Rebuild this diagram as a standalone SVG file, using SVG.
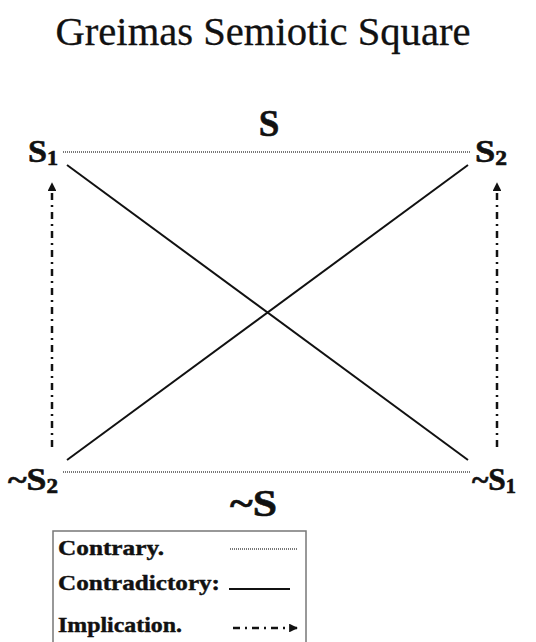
<svg xmlns="http://www.w3.org/2000/svg" width="536" height="642" viewBox="0 0 536 642">
<defs>
<style>
.title{font-family:"Liberation Serif","DejaVu Serif",serif;font-size:40px;fill:#111;stroke:#111;stroke-width:0.3}
.lbl{font-family:"Liberation Serif","DejaVu Serif",serif;font-weight:bold;fill:#111;stroke:#111;stroke-width:0.6}
.big{font-size:37px}
.node{font-size:31px}
.sub{font-size:20px}
.leg{font-family:"Liberation Serif","DejaVu Serif",serif;font-weight:bold;font-size:21px;fill:#111;stroke:#111;stroke-width:0.4}
.contrary{stroke:#777;stroke-width:2;stroke-dasharray:1 1;fill:none}
.contra{stroke:#111;stroke-width:2;fill:none}
.impl{stroke:#111;stroke-width:2.5;stroke-dasharray:7 5 2 5;fill:none}
</style>
<marker id="ah" viewBox="0 0 10 10" refX="9" refY="5" markerWidth="3.5" markerHeight="3.5" orient="auto" markerUnits="strokeWidth">
<path d="M0,0 L10,5 L0,10 Z" fill="#111"/>
</marker>
</defs>
<rect width="536" height="642" fill="#fff"/>
<text class="title" x="263" y="45" text-anchor="middle" textLength="415" lengthAdjust="spacingAndGlyphs">Greimas Semiotic Square</text>

<g id="connectors">
<line class="contrary" x1="63" y1="152" x2="471" y2="152"/>
<line class="contrary" x1="63" y1="472" x2="471" y2="472"/>
<line class="contra" x1="67" y1="165" x2="468" y2="460"/>
<line class="contra" x1="468" y1="165" x2="67" y2="460"/>
<line class="impl" x1="52" y1="447" x2="52" y2="183" marker-end="url(#ah)"/>
<line class="impl" x1="497" y1="447" x2="497" y2="183" marker-end="url(#ah)"/>
</g>

<g id="S"><text class="lbl big" x="269" y="136" text-anchor="middle">S</text></g>
<g id="notS"><text class="lbl big" x="230" y="516" textLength="47" lengthAdjust="spacingAndGlyphs">~S</text></g>
<g id="S1"><text class="lbl node" x="28" y="162" textLength="30" lengthAdjust="spacingAndGlyphs">S<tspan class="sub" dy="3">1</tspan></text></g>
<g id="S2"><text class="lbl node" x="475" y="162" textLength="32" lengthAdjust="spacingAndGlyphs">S<tspan class="sub" dy="3">2</tspan></text></g>
<g id="notS2"><text class="lbl node" x="8" y="490" textLength="50" lengthAdjust="spacingAndGlyphs">~S<tspan class="sub" dy="3">2</tspan></text></g>
<g id="notS1"><text class="lbl node" x="472" y="490" textLength="44" lengthAdjust="spacingAndGlyphs">~S<tspan class="sub" dy="3">1</tspan></text></g>

<g id="legend">
<rect x="53" y="531" width="253" height="116" fill="#fff" stroke="#777" stroke-width="1.5"/>
<text class="leg" x="58" y="555" textLength="106" lengthAdjust="spacingAndGlyphs">Contrary.</text>
<text class="leg" x="58" y="590" textLength="162" lengthAdjust="spacingAndGlyphs">Contradictory:</text>
<text class="leg" x="58" y="632" textLength="124" lengthAdjust="spacingAndGlyphs">Implication.</text>
<line class="contrary" x1="230" y1="549" x2="297" y2="549"/>
<line class="contra" x1="229" y1="589" x2="290" y2="589"/>
<line class="impl" x1="233" y1="628" x2="297" y2="628" stroke-dasharray="6 4 2 4" marker-end="url(#ah)"/>
</g>
</svg>
